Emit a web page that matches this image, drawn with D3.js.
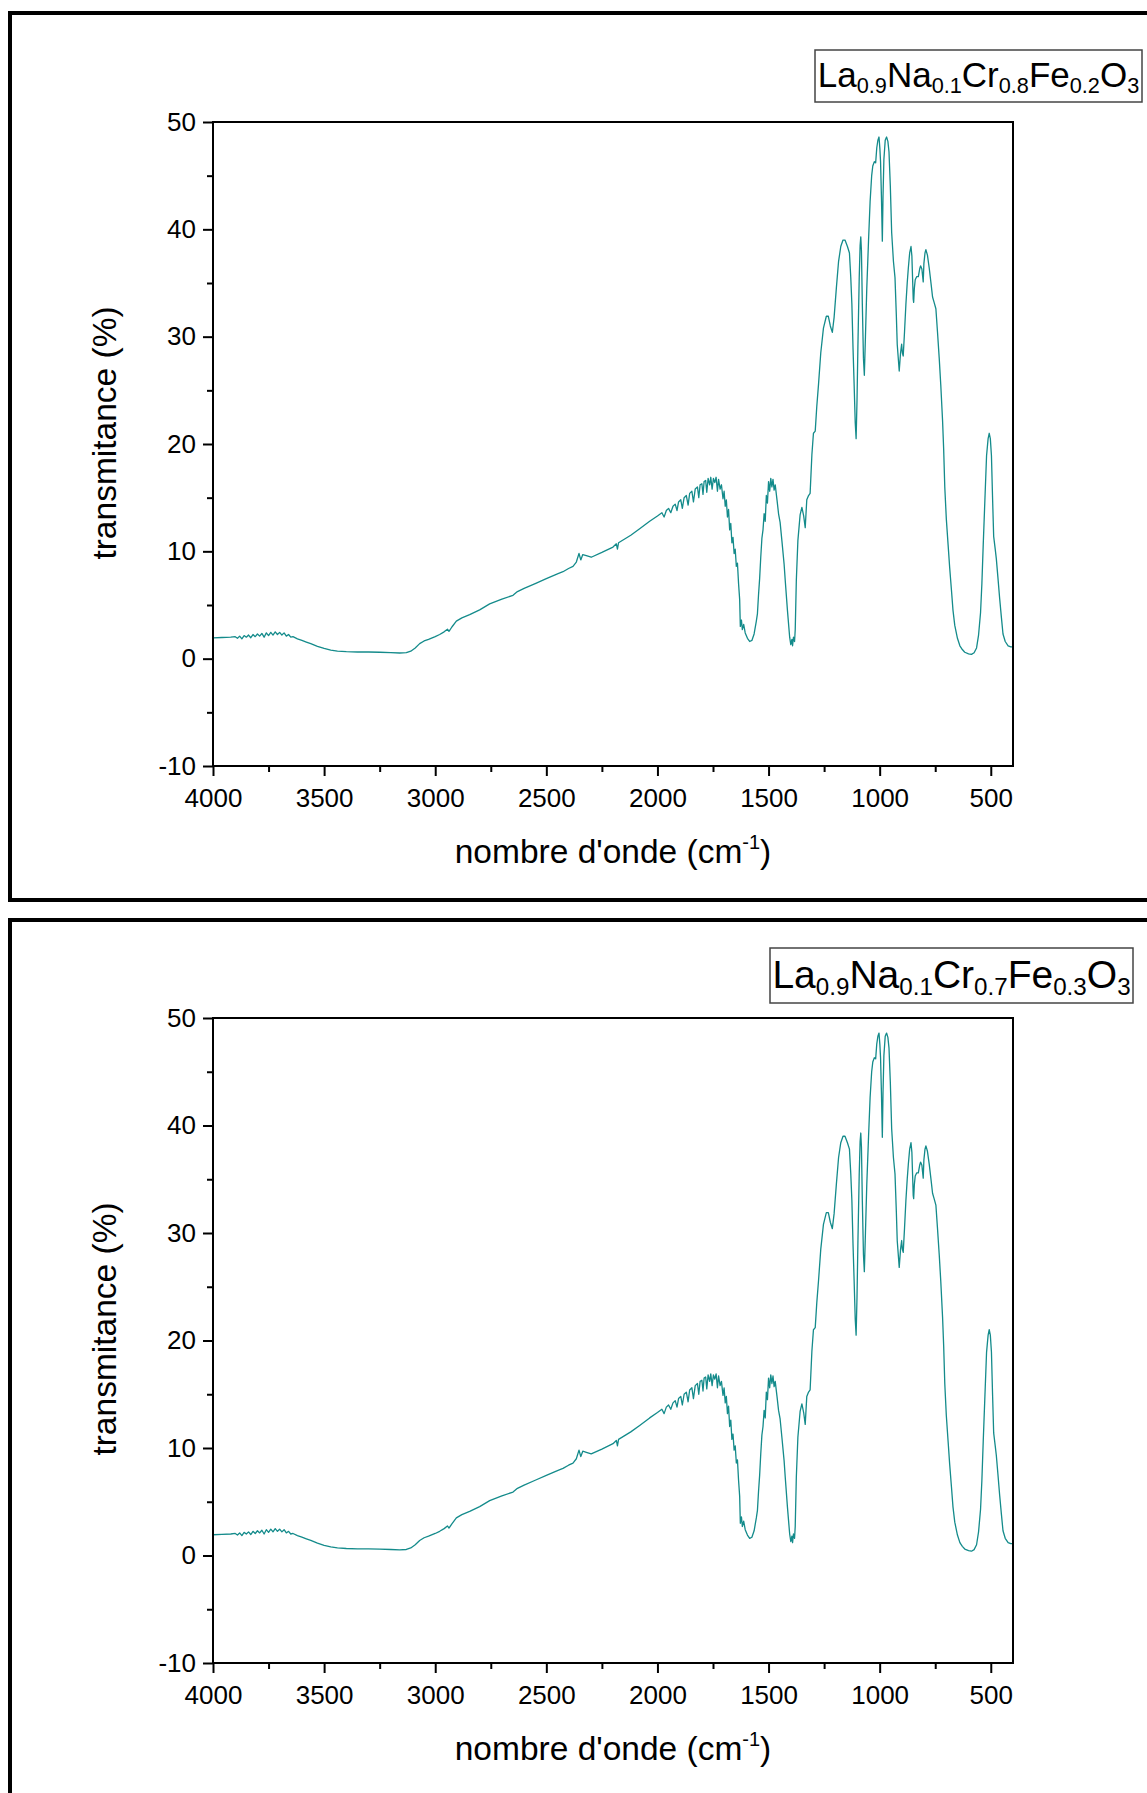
<!DOCTYPE html>
<html><head><meta charset="utf-8">
<script src="https://cdn.jsdelivr.net/npm/d3@7"></script>
<style>
body{margin:0;background:#fff;}
svg{display:block;}
text{font-family:"Liberation Sans",Arial,Helvetica,sans-serif;fill:#000;}
</style>
</head><body>
<svg id="c" width="1147" height="1793"></svg>
<script>
// ---------- data ----------
const wavenumber = [4000,3960,3920,3900,3890,3880,3870,3860,3850,3840,3830,3820,3810,3800,3790,3780,3770,3760,3750,3740,3730,3720,3710,3700,3690,3680,3670,3660,3650,3640,3620,3600,3580,3560,3530,3500,3470,3440,3400,3350,3300,3250,3200,3160,3130,3110,3090,3070,3050,3030,3000,2980,2960,2945,2938,2925,2905,2880,2845,2800,2755,2700,2650,2630,2600,2550,2500,2450,2425,2400,2380,2365,2353,2345,2336,2320,2298,2250,2200,2185,2180,2175,2120,2080,2035,2000,1980,1970,1960,1950,1940,1930,1920,1912,1905,1895,1888,1880,1870,1862,1855,1845,1838,1830,1820,1814,1808,1800,1795,1790,1783,1778,1772,1765,1760,1754,1748,1742,1736,1730,1725,1718,1712,1705,1700,1695,1690,1685,1680,1675,1670,1665,1660,1655,1650,1645,1640,1635,1630,1627,1622,1618,1612,1605,1595,1585,1575,1565,1555,1550,1545,1540,1535,1530,1525,1520,1515,1510,1505,1500,1495,1490,1485,1480,1475,1470,1462,1455,1448,1440,1430,1425,1415,1405,1400,1395,1392,1388,1383,1380,1375,1368,1358,1350,1342,1335,1328,1320,1313,1305,1298,1290,1283,1275,1265,1253,1240,1231,1222,1213,1205,1195,1185,1175,1165,1156,1145,1136,1130,1125,1120,1115,1110,1106,1102,1098,1092,1088,1085,1082,1078,1073,1069,1064,1058,1050,1043,1036,1031,1024,1018,1013,1008,1003,999,996,992,988,985,981,975,969,963,958,952,946,938,931,925,921,912,906,901,898,894,888,882,876,871,865,859,855,852,849,847,844,840,833,826,820,816,810,806,804,801,796,792,785,777,768,762,755,747,740,732,725,717,712,707,700,692,685,677,670,662,650,639,628,617,600,587,575,564,555,546,540,534,527,519,512,507,502,497,492,487,480,475,468,460,452,445,435,422,410,400];
const transmittance = [1.93,1.97,2.0,2.05,1.9,2.1,1.85,2.15,2.0,2.2,1.95,2.25,2.05,2.3,2.1,2.35,2.0,2.4,2.15,2.45,2.2,2.5,2.25,2.45,2.2,2.4,2.1,2.25,2.0,2.05,1.85,1.7,1.55,1.4,1.15,0.95,0.8,0.7,0.65,0.62,0.62,0.6,0.56,0.53,0.56,0.7,1.0,1.4,1.65,1.8,2.05,2.25,2.5,2.75,2.55,2.95,3.5,3.8,4.1,4.55,5.1,5.55,5.9,6.25,6.55,7.0,7.45,7.9,8.1,8.4,8.6,9.0,9.8,9.2,9.7,9.6,9.45,9.9,10.4,10.7,10.2,10.8,11.5,12.1,12.8,13.3,13.6,13.2,13.8,14.0,13.6,14.2,14.4,13.8,14.6,14.8,14.0,15.0,15.2,14.3,15.4,15.6,14.6,15.8,16.0,15.0,16.2,16.3,15.3,16.5,16.6,15.5,16.8,16.2,16.9,15.8,16.8,16.4,16.9,15.6,16.7,15.8,16.2,14.9,15.6,14.2,14.8,13.2,13.9,12.0,12.6,10.8,11.3,9.8,10.2,8.6,8.9,7.0,5.5,3.0,3.6,2.7,3.2,2.4,1.9,1.6,1.7,2.3,3.5,4.2,6.0,7.5,9.5,11.2,12.0,13.5,12.8,15.2,14.5,16.5,15.6,16.8,16.0,16.7,15.7,16.2,14.8,13.5,12.7,11.0,8.8,7.3,4.5,2.0,1.3,1.8,1.2,2.0,1.6,2.7,7.3,11.0,13.4,14.1,13.3,12.2,14.8,15.2,15.4,19.0,21.0,21.2,23.5,25.6,28.5,30.8,31.9,31.9,31.0,30.4,31.8,34.5,37.0,38.4,39.0,39.0,38.4,37.8,35.5,33.0,29.0,25.6,22.0,20.5,24.0,29.0,35.5,38.5,39.3,38.0,33.0,28.0,26.4,30.0,34.5,39.0,42.6,45.0,45.9,46.3,46.2,47.6,48.3,48.6,47.5,46.3,43.0,38.9,43.0,46.5,48.3,48.6,48.2,47.2,44.0,39.7,37.0,35.5,32.0,29.3,26.8,28.5,29.3,28.5,28.2,30.5,33.0,35.0,36.4,37.8,38.4,37.5,35.5,33.5,33.2,34.5,35.3,35.6,35.6,36.3,36.6,36.3,35.5,35.1,36.8,37.8,38.1,37.6,36.4,34.8,33.7,33.2,32.6,30.5,28.0,25.5,22.2,19.5,16.0,13.0,10.6,8.5,6.4,4.5,3.1,1.9,1.2,0.85,0.6,0.45,0.4,0.55,1.0,2.2,4.3,7.0,10.6,14.5,18.9,20.5,21.0,20.5,18.9,15.0,11.4,10.2,9.3,7.6,5.6,3.8,2.3,1.6,1.2,1.1,1.1];
const xTickValues = [4000,3500,3000,2500,2000,1500,1000,500];
const xMinorValues = [3750,3250,2750,2250,1750,1250,750];
const yTickValues = [-10,0,10,20,30,40,50];
const yMinorValues = [-5,5,15,25,35,45];
const sampleLabels = ["La0.9Na0.1Cr0.8Fe0.2O3","La0.9Na0.1Cr0.7Fe0.3O3"];
const xTitle = "nombre d'onde (cm";
const xTitleSup = "-1";
const yTitle = "transmitance (%)";

// ---------- layout ----------
const panels = [
  {top:13, bottom:900, plotTop:122, plotBottom:766, lg:{x:815,y:50,w:327,h:52,fs:35,base:37}},
  {top:920, bottom:1820, plotTop:1018, plotBottom:1663, lg:{x:770,y:948,w:363,h:55,fs:39,base:40}}
];
const plotLeft = 213, plotRight = 1013;
const lineColor = "#148b8b";
const fmt = d => String(d);  // plain hyphen minus, as in the reference

const svg = d3.select("#c");
const data = wavenumber.map((w,i)=>[w, transmittance[i]]);

panels.forEach((p, idx) => {
  const g = svg.append("g");
  g.append("rect").attr("x",10).attr("y",p.top).attr("width",1300).attr("height",p.bottom-p.top)
    .attr("fill","none").attr("stroke","#000").attr("stroke-width",4);

  const x = d3.scaleLinear().domain([4000,400]).range([plotLeft, plotRight]);
  const y = d3.scaleLinear().domain([-10,50]).range([p.plotBottom, p.plotTop]);

  const line = d3.line().x(d=>x(d[0])).y(d=>y(d[1]));
  g.append("path").datum(data).attr("d", line).attr("fill","none")
    .attr("stroke", lineColor).attr("stroke-width",1.3).attr("stroke-linejoin","round");

  g.append("rect").attr("x",plotLeft).attr("y",p.plotTop).attr("width",plotRight-plotLeft)
    .attr("height",p.plotBottom-p.plotTop).attr("fill","none").attr("stroke","#000").attr("stroke-width",2);

  const xAxis = d3.axisBottom(x).tickValues(xTickValues).tickSize(10).tickPadding(13).tickFormat(fmt);
  const xa = g.append("g").attr("transform",`translate(0,${p.plotBottom})`).call(xAxis);
  const xm = g.append("g").attr("transform",`translate(0,${p.plotBottom})`)
    .call(d3.axisBottom(x).tickValues(xMinorValues).tickSize(6).tickFormat(""));
  const yAxis = d3.axisLeft(y).tickValues(yTickValues).tickSize(10).tickPadding(7).tickFormat(fmt);
  const ya = g.append("g").attr("transform",`translate(${plotLeft},0)`).call(yAxis);
  const ym = g.append("g").attr("transform",`translate(${plotLeft},0)`)
    .call(d3.axisLeft(y).tickValues(yMinorValues).tickSize(6).tickFormat(""));
  [xa,xm,ya,ym].forEach(a=>{
    a.select(".domain").remove();
    a.selectAll("line").attr("stroke","#000").attr("stroke-width",2);
    a.selectAll("text").attr("font-size",26).attr("font-family","'Liberation Sans',Arial,sans-serif").attr("fill","#000");
  });
  xa.selectAll("text").attr("dy","0.71em");

  const xt = g.append("text").attr("x",(plotLeft+plotRight)/2).attr("y",p.plotBottom+97)
    .attr("text-anchor","middle").attr("font-size",33.5);
  xt.append("tspan").text(xTitle);
  xt.append("tspan").attr("font-size",20).attr("dy",-14).text(xTitleSup);
  xt.append("tspan").attr("dy",14).text(")");

  g.append("text").attr("transform",`translate(116,${p.plotTop+311}) rotate(-90)`)
    .attr("text-anchor","middle").attr("font-size",33.5).text(yTitle);

  const lg = p.lg;
  g.append("rect").attr("x",lg.x).attr("y",lg.y).attr("width",lg.w).attr("height",lg.h)
    .attr("fill","#fff").attr("stroke","#444").attr("stroke-width",1.5);
  const lt = g.append("text").attr("x",lg.x+lg.w/2).attr("y",lg.y+lg.base).attr("text-anchor","middle")
    .attr("font-size",lg.fs);
  const parts = [...sampleLabels[idx].matchAll(/([A-Z][a-z]?)([\d.]+)/g)];
  const drop = Math.round(lg.fs*0.17);
  let shifted = false;
  parts.forEach(m=>{
    lt.append("tspan").attr("dy", shifted ? -drop : 0).text(m[1]);
    lt.append("tspan").attr("font-size",lg.fs*0.62).attr("dy",drop).text(m[2]);
    shifted = true;
  });
});
</script>
</body></html>
